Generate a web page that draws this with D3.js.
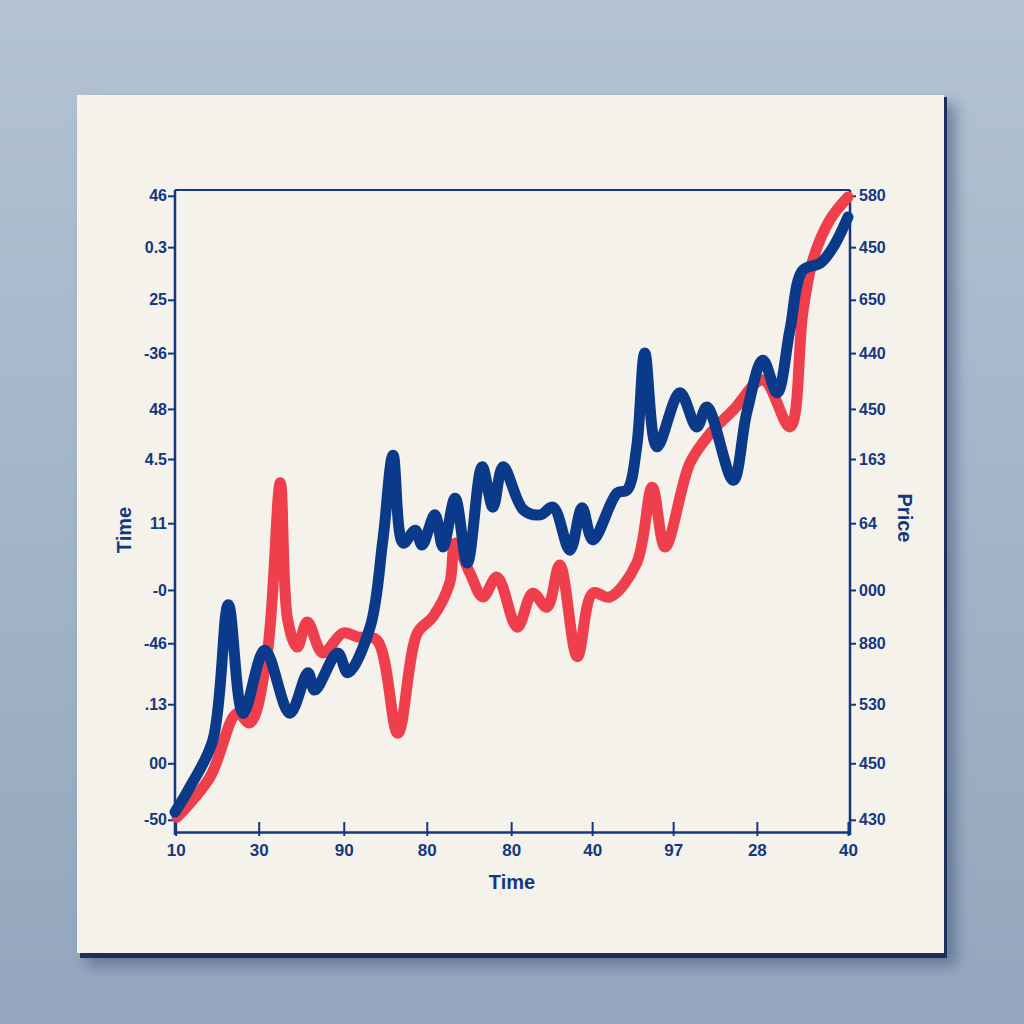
<!DOCTYPE html>
<html>
<head>
<meta charset="utf-8">
<script src="https://cdn.jsdelivr.net/npm/d3@7"></script>
<style>
html,body{margin:0;padding:0;background:#a3b4c6;}
svg{display:block;}
</style>
</head>
<body>
<svg id="chart" width="1024" height="1024"></svg>
<script>
// ---- data ----
const blueTime  = [0,2.2,5.6,7.9,10.1,13.3,17.0,19.7,20.7,24.1,25.6,28.9,30.8,32.3,33.8,35.6,36.6,38.5,39.7,41.5,43.3,45.5,47.1,48.6,51.6,54.1,56.0,58.5,60.3,61.9,65.5,67.0,68.4,69.6,71.4,74.8,77.3,78.8,82.7,84.7,87.1,89.2,91.1,93.0,95.6,97.5,99.7];
const blueValue = [3.1,7.0,14.3,35.4,18.5,28.3,18.5,24.8,22.1,27.9,24.8,31.9,45.5,58.7,45.0,47.0,44.7,49.4,44.4,52.0,41.9,56.9,50.6,56.9,50.2,49.4,50.6,43.9,50.5,45.5,52.8,53.3,60.0,74.6,60.0,68.4,63.1,66.2,54.8,65.3,73.5,68.4,78.2,87.5,88.6,91.1,95.8];
const redTime   = [0.3,5.2,9.2,11.1,13.6,15.6,16.7,18.1,19.6,21.9,24.9,27.0,29.9,33.0,35.9,38.2,40.7,41.5,43.7,45.6,47.7,50.7,53.0,55.1,57.0,59.6,61.9,64.4,68.4,70.7,72.6,76.3,79.3,82.7,87.1,91.1,93.0,94.5,97.0,99.7];
const redValue  = [2.3,8.6,18.5,17.0,27.3,54.4,33.0,28.8,32.7,27.9,31.0,30.4,29.9,15.4,31.0,33.5,38.8,45.0,40.3,36.6,39.7,31.9,37.2,35.0,41.6,27.3,37.2,36.6,41.9,53.7,44.4,57.5,62.1,65.7,70.4,63.1,80.8,89.1,95.3,98.9];

const xTickValues = [0.1,12.4,25.0,37.3,49.8,61.8,73.8,86.2,99.7];
const xTickLabels = ["10","30","90","80","80","40","97","28","40"];
const yTickValues = [99.1,91.1,82.9,74.6,65.9,58.1,48.1,37.7,29.4,19.9,10.7,1.9];
const leftTickLabels  = ["46","0.3","25","-36","48","4.5","11","-0","-46",".13","00","-50"];
const rightTickLabels = ["580","450","650","440","450","163","64","000","880","530","450","430"];

// ---- drawing ----
const svg = d3.select("#chart");
const defs = svg.append("defs");
const bg = defs.append("linearGradient").attr("id","bg").attr("x1",0).attr("y1",0).attr("x2",0).attr("y2",1);
bg.append("stop").attr("offset","0%").attr("stop-color","#b3c3d3");
bg.append("stop").attr("offset","100%").attr("stop-color","#93a6bd");
const sh = defs.append("filter").attr("id","shadow").attr("x","-10%").attr("y","-10%").attr("width","130%").attr("height","130%");
sh.append("feGaussianBlur").attr("stdDeviation",7);

svg.append("rect").attr("width",1024).attr("height",1024).attr("fill","url(#bg)");
// card shadow
svg.append("rect").attr("x",86).attr("y",104).attr("width",870).attr("height",862)
  .attr("fill","#3f5275").attr("opacity",0.55).attr("filter","url(#shadow)");
svg.append("rect").attr("x",80).attr("y",97).attr("width",867).attr("height",861).attr("fill","#1d2f5c");
svg.append("rect").attr("x",77).attr("y",95).attr("width",867).attr("height",858).attr("fill","#f4f2ea");

const pLeft = 175, pRight = 850, pTop = 190, pBottom = 832;
const x = d3.scaleLinear().domain([0,100]).range([pLeft,pRight]);
const y = d3.scaleLinear().domain([0,100]).range([pBottom,pTop]);

const axisColor = "#14387f";
const fontFam = "'Liberation Sans', Arial, sans-serif";

// plot frame (top line)
svg.append("line").attr("x1",pLeft).attr("x2",pRight).attr("y1",pTop).attr("y2",pTop)
  .attr("stroke",axisColor).attr("stroke-width",2);

// left axis
const gL = svg.append("g").attr("transform",`translate(${pLeft},0)`)
  .call(d3.axisLeft(y).tickValues(yTickValues).tickFormat((d,i)=>leftTickLabels[i]).tickSize(7).tickSizeOuter(0));
// right axis
const gR = svg.append("g").attr("transform",`translate(${pRight},0)`)
  .call(d3.axisRight(y).tickValues(yTickValues).tickFormat((d,i)=>rightTickLabels[i]).tickSize(6).tickSizeOuter(0));
// bottom axis
const gB = svg.append("g").attr("transform",`translate(0,${pBottom})`)
  .call(d3.axisBottom(x).tickValues(xTickValues).tickFormat((d,i)=>xTickLabels[i]).tickSize(4).tickSizeOuter(0));
gB.selectAll(".tick line").attr("y1",-10);

[gL,gR,gB].forEach(g=>{
  g.select(".domain").attr("stroke",axisColor).attr("stroke-width",2.5);
  g.selectAll(".tick line").attr("stroke",axisColor).attr("stroke-width",2);
  g.selectAll(".tick text").attr("fill",axisColor).attr("font-family",fontFam)
    .attr("font-weight","bold").attr("font-size",16);
});
gL.selectAll(".tick text").attr("x",-8);
gB.selectAll(".tick text").attr("dy","1.0em").attr("font-size",17);
gL.select(".domain").attr("d",`M0,${pTop}V${pBottom+3}`);
gR.select(".domain").attr("d",`M0,${pTop}V${pBottom+3}`);

// axis titles
svg.append("text").attr("transform","translate(131,530) rotate(-90)")
  .attr("text-anchor","middle").attr("fill",axisColor).attr("font-family",fontFam)
  .attr("font-weight","bold").attr("font-size",20).text("Time");
svg.append("text").attr("x",512).attr("y",889)
  .attr("text-anchor","middle").attr("fill",axisColor).attr("font-family",fontFam)
  .attr("font-weight","bold").attr("font-size",20).text("Time");
svg.append("text").attr("transform","translate(898,518) rotate(90)")
  .attr("text-anchor","middle").attr("fill",axisColor).attr("font-family",fontFam)
  .attr("font-weight","bold").attr("font-size",20).text("Price");

// lines
const line = d3.line().x(d=>x(d[0])).y(d=>y(d[1])).curve(d3.curveCatmullRom.alpha(0.5));
const redData = redTime.map((t,i)=>[t,redValue[i]]);
const blueData = blueTime.map((t,i)=>[t,blueValue[i]]);
svg.append("path").datum(redData).attr("d",line).attr("fill","none")
  .attr("stroke","#ef3f4c").attr("stroke-width",11).attr("stroke-linejoin","round").attr("stroke-linecap","round");
svg.append("path").datum(blueData).attr("d",line).attr("fill","none")
  .attr("stroke","#0c3a8a").attr("stroke-width",11).attr("stroke-linejoin","round").attr("stroke-linecap","round");
</script>
</body>
</html>
